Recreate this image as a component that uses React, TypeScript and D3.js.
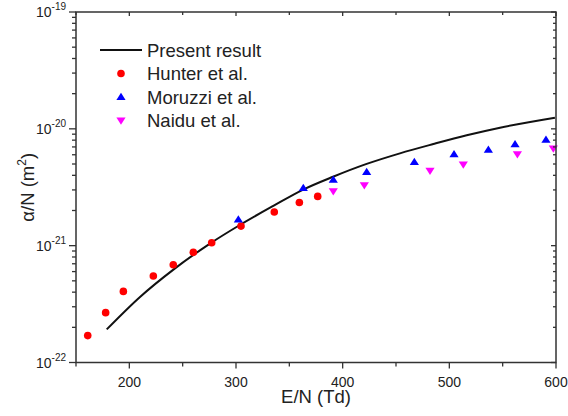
import React from "react";
import * as d3 from "d3";

const presentE = [178.8, 210, 241, 275.6, 304, 335, 363, 391, 422.5, 453.7, 485, 516.3, 547.5, 599];
const presentA = [1.92e-22, 3.64e-22, 6.21e-22, 1.042e-21, 1.51e-21, 2.19e-21, 3.02e-21, 3.89e-21, 5.01e-21, 6.17e-21, 7.41e-21, 8.81e-21, 1.023e-20, 1.245e-20];

const hunterE = [161, 177.8, 194.4, 222.5, 241.2, 260, 277.2, 304.7, 335.9, 359.4, 376.6];
const hunterA = [1.7e-22, 2.67e-22, 4.06e-22, 5.5e-22, 6.87e-22, 8.77e-22, 1.06e-21, 1.47e-21, 1.94e-21, 2.34e-21, 2.64e-21];

const moruzziE = [302.2, 363.1, 391.2, 422.5, 467.2, 504.4, 536.6, 561.6, 590.6];
const moruzziA = [1.68e-21, 3.12e-21, 3.67e-21, 4.27e-21, 5.2e-21, 6.06e-21, 6.64e-21, 7.38e-21, 8.1e-21];

const naiduE = [391.2, 420.3, 481.9, 513.1, 563.8, 597.5];
const naiduA = [2.92e-21, 3.29e-21, 4.36e-21, 4.94e-21, 6.06e-21, 6.78e-21];

const xMajor = [200, 300, 400, 500, 600];
const xMinor = [150, 250, 350, 450, 550];
const yMajorExp = [-19, -20, -21, -22];
const legendLabels = ["Present result", "Hunter et al.", "Moruzzi et al.", "Naidu et al."];

const W = 568, H = 416;
const L = 76, R = 556, T = 12, B = 362.5;
const FONT = "'Liberation Sans', Arial, sans-serif";
const AX = "#333";

export default function App() {
  const x = d3.scaleLinear().domain([150, 600]).range([L, R]);
  const y = d3.scaleLog().domain([1e-22, 1e-19]).range([B, T]);

  const line = d3
    .line<number>()
    .x((_, i) => x(presentE[i]))
    .y((d) => y(d))
    .curve(d3.curveMonotoneX);

  const yMinor: number[] = [];
  for (let e = -22; e < -19; e++) {
    for (let m = 2; m <= 9; m++) yMinor.push(m * Math.pow(10, e));
  }

  const tri = (cx: number, cy: number, up: boolean, s = 4.6) => {
    const h = s * 0.9;
    return up
      ? `M${cx},${cy - h}L${cx + s},${cy + h * 0.75}L${cx - s},${cy + h * 0.75}Z`
      : `M${cx},${cy + h}L${cx + s},${cy - h * 0.75}L${cx - s},${cy - h * 0.75}Z`;
  };

  const legY = [50, 73.5, 97, 120.5];
  const legX = 121;

  return (
    <svg
      width={W}
      height={H}
      style={{ position: "absolute", left: 0, top: 0, background: "#fff" }}
      fontFamily={FONT}
    >
      <rect x={0} y={0} width={W} height={H} fill="#fff" />
      {/* data */}
      <path d={line(presentA) || ""} fill="none" stroke="#111" strokeWidth={2} />
      {hunterE.map((e, i) => (
        <circle key={"h" + i} cx={x(e)} cy={y(hunterA[i])} r={3.8} fill="#ff0000" />
      ))}
      {moruzziE.map((e, i) => (
        <path key={"m" + i} d={tri(x(e), y(moruzziA[i]), true)} fill="#0000ff" />
      ))}
      {naiduE.map((e, i) => (
        <path key={"n" + i} d={tri(x(e), y(naiduA[i]), false)} fill="#ff00ff" />
      ))}

      {/* frame */}
      <rect x={L} y={T} width={R - L} height={B - T} fill="none" stroke={AX} strokeWidth={1.5} />

      {/* x ticks */}
      {xMajor.map((v) => (
        <g key={"xM" + v}>
          <line x1={x(v)} x2={x(v)} y1={B} y2={B + 6} stroke={AX} strokeWidth={1.3} />
          <line x1={x(v)} x2={x(v)} y1={T} y2={T + 4} stroke={AX} strokeWidth={1.3} />
          <text x={x(v)} y={386.5} textAnchor="middle" fontSize={14} fill="#222">
            {v}
          </text>
        </g>
      ))}
      {xMinor.map((v) => (
        <g key={"xm" + v}>
          <line x1={x(v)} x2={x(v)} y1={B} y2={B + 4} stroke={AX} strokeWidth={1.3} />
          <line x1={x(v)} x2={x(v)} y1={T} y2={T + 3} stroke={AX} strokeWidth={1.3} />
        </g>
      ))}

      {/* y ticks */}
      {yMajorExp.map((e) => {
        const yy = y(Math.pow(10, e));
        return (
          <g key={"yM" + e}>
            <line x1={L - 7} x2={L} y1={yy} y2={yy} stroke={AX} strokeWidth={1.3} />
            <line x1={R - 5} x2={R} y1={yy} y2={yy} stroke={AX} strokeWidth={1.3} />
            <text x={66} y={yy + 5} textAnchor="end" fontSize={14} fill="#222">
              10
              <tspan dy={-7} fontSize={10}>
                {String(e)}
              </tspan>
            </text>
          </g>
        );
      })}
      {yMinor.map((v, i) => {
        const yy = y(v);
        return (
          <g key={"ym" + i}>
            <line x1={L - 4} x2={L} y1={yy} y2={yy} stroke={AX} strokeWidth={1.3} />
            <line x1={R - 3} x2={R} y1={yy} y2={yy} stroke={AX} strokeWidth={1.3} />
          </g>
        );
      })}

      {/* axis titles */}
      <text x={(L + R) / 2} y={402.5} textAnchor="middle" fontSize={18.5} fill="#222">
        E/N (Td)
      </text>
      <text
        transform={`translate(34,${(T + B) / 2}) rotate(-90)`}
        textAnchor="middle"
        fontSize={18.5}
        fill="#222"
      >
        α/N (m
        <tspan dy={-8} fontSize={12}>
          2
        </tspan>
        <tspan dy={8}>)</tspan>
      </text>

      {/* legend */}
      <line x1={100} x2={142} y1={legY[0]} y2={legY[0]} stroke="#111" strokeWidth={2} />
      <circle cx={legX} cy={legY[1]} r={3.8} fill="#ff0000" />
      <path d={tri(legX, legY[2], true)} fill="#0000ff" />
      <path d={tri(legX, legY[3], false)} fill="#ff00ff" />
      {legendLabels.map((t, i) => (
        <text key={t} x={147} y={legY[i] + 6.5} fontSize={18.5} fill="#222">
          {t}
        </text>
      ))}
    </svg>
  );
}
